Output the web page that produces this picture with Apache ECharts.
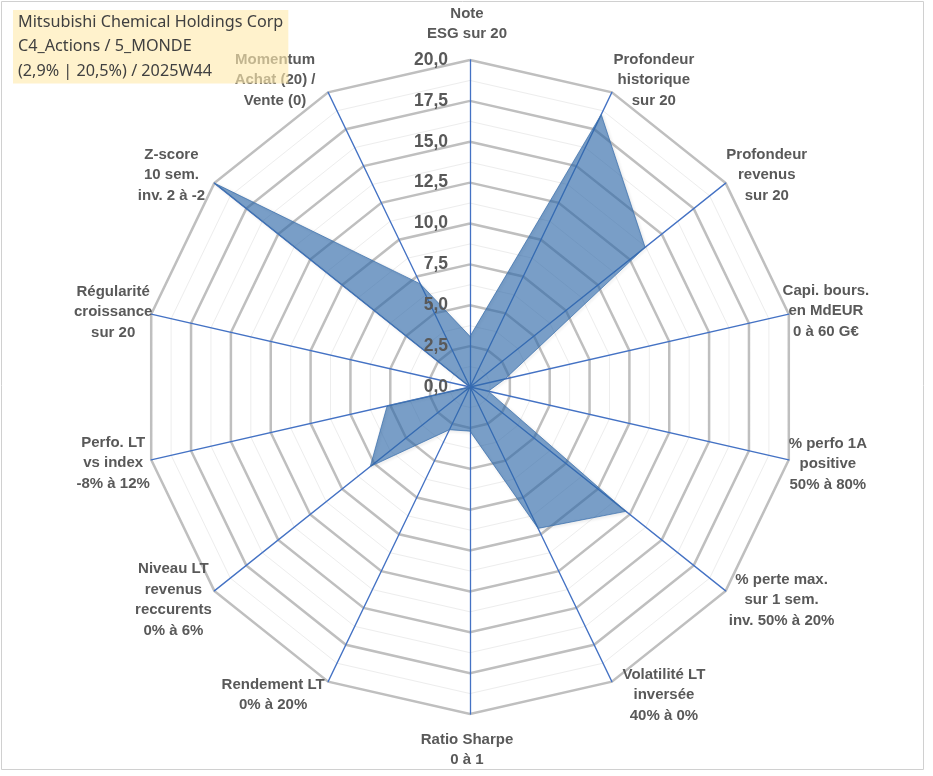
<!DOCTYPE html>
<html>
<head>
    <meta charset="utf-8" />
    <script src="https://cdn.jsdelivr.net/npm/echarts@6/dist/echarts.min.js"></script>
    <style>
        html, body { margin: 0; padding: 0; background: #fff; }
        #chart { width: 933px; height: 776px; }
    </style>
</head>
<body>
<div id="chart"></div>
<script>
    // axes in clockwise order, starting at the top
    var axisNames = [
        'Note\nESG sur 20',
        'Profondeur\nhistorique\nsur 20',
        'Profondeur\nrevenus\nsur 20',
        'Capi. bours.\nen MdEUR\n0 à 60 G€',
        '% perfo 1A\npositive\n50% à 80%',
        '% perte max.\nsur 1 sem.\ninv. 50% à 20%',
        'Volatilité LT\ninversée\n40% à 0%',
        'Ratio Sharpe\n0 à 1',
        'Rendement LT\n0% à 20%',
        'Niveau LT\nrevenus\nreccurents\n0% à 6%',
        'Perfo. LT\nvs index\n-8% à 12%',
        'Régularité\ncroissance\nsur 20',
        'Z-score\n10 sem.\ninv. 2 à -2',
        'Momentum\nAchat (20) /\nVente (0)'
    ];
    var scores = [3.1, 18.5, 13.7, 2.2, 1.15, 12.2, 9.6, 2.7, 2.9, 7.8, 5.2, 0, 20, 7.0];
    var axisMax = 20;
    var titleLines = ['Mitsubishi Chemical Holdings Corp', 'C4_Actions / 5_MONDE', '(2,9% | 20,5%) / 2025W44'];

    // label placement per axis: distance past the axis end, then a sideways push (px)
    var nameGaps = [36, 13.7, 12.9, 14.5, 19, 14.5, 14.8, 36, 14.8, 14.5, 14.5, 10, 12.9, 13.7];
    var namePushX = [-3, 36, 31, 23, 20.5, 44.6, 45.6, -3, -48.6, -29.6, -23.9, -28.3, -32.8, -47.1];

    // echarts lays indicators out counter-clockwise: keep the first, reverse the rest
    var order = [0];
    for (var i = axisNames.length - 1; i > 0; i--) order.push(i);

    function pushPadding(dx) {
        return [0, Math.max(0, -2 * dx), 0, Math.max(0, 2 * dx)];
    }

    var mainIndicators = order.map(function (k) {
        return {
            name: axisNames[k], max: axisMax, min: 0,
            nameGap: nameGaps[k],
            nameTextStyle: { padding: pushPadding(namePushX[k]) }
        };
    });
    var plainIndicators = order.map(function () {
        return { name: '', max: axisMax, min: 0 };
    });
    var labelIndicators = order.map(function (k, j) {
        var ind = { name: '', max: axisMax, min: 0 };
        if (j === 0) ind.axisLabel = { show: true };
        return ind;
    });

    var chart = echarts.init(document.getElementById('chart'));
    chart.setOption({
        animation: false,
        backgroundColor: '#fff',
        title: {
            text: titleLines.join('\n'),
            left: 13,
            top: 10,
            padding: [0, 5, 0, 5],
            backgroundColor: 'rgba(255,234,174,0.63)',
            textStyle: {
                fontFamily: 'Noto Sans',
                fontSize: 16.2,
                fontWeight: 'normal',
                color: '#404040',
                lineHeight: 24.5
            }
        },
        graphic: [{
            type: 'rect',
            shape: { x: 1.5, y: 1.5, width: 922, height: 768 },
            style: { fill: 'none', stroke: '#D0D0D0', lineWidth: 1 },
            silent: true
        }],
        radar: [{
            // faint minor rings
            center: [470, 387],
            radius: 327,
            splitNumber: 16,
            shape: 'polygon',
            indicator: plainIndicators,
            axisName: { show: false },
            axisLine: { show: false },
            axisTick: { show: false },
            axisLabel: { show: false },
            splitArea: { show: false },
            splitLine: { lineStyle: { color: '#EDEDED', width: 1 } }
        }, {
            center: [470, 387],
            radius: 327,
            splitNumber: 8,
            shape: 'polygon',
            nameGap: 37,
            indicator: mainIndicators,
            axisName: {
                color: '#595959',
                fontFamily: 'Liberation Sans',
                fontWeight: 'bold',
                fontSize: 15,
                lineHeight: 20.5,
                align: 'center',
                verticalAlign: 'middle'
            },
            axisLine: { lineStyle: { color: '#4472C4', width: 1.3 } },
            axisTick: { show: false },
            axisLabel: { show: false },
            splitArea: { show: false },
            splitLine: { lineStyle: { color: '#BFBFBF', width: 2.5 } }
        }, {
            // tick values, drawn above the filled area
            z: 5,
            center: [470, 387],
            radius: 327,
            splitNumber: 8,
            shape: 'polygon',
            indicator: labelIndicators,
            axisName: { show: false },
            axisLine: { show: false },
            axisTick: { show: false },
            splitArea: { show: false },
            splitLine: { show: false },
            axisLabel: {
                show: false,
                margin: 22,
                color: '#595959',
                fontFamily: 'Liberation Sans',
                fontWeight: 'bold',
                fontSize: 17.5,
                formatter: function (v) { return v.toFixed(1).replace('.', ','); }
            }
        }],
        series: [{
            type: 'radar',
            radarIndex: 1,
            symbol: 'none',
            lineStyle: {
                color: '#4F7DB5', width: 0.8,
                shadowBlur: 3, shadowColor: 'rgba(0,0,0,0.25)',
                shadowOffsetX: 1, shadowOffsetY: 1
            },
            areaStyle: { color: '#2E67A8', opacity: 0.64 },
            data: [{ value: order.map(function (k) { return scores[k]; }) }]
        }]
    });
</script>
</body>
</html>
